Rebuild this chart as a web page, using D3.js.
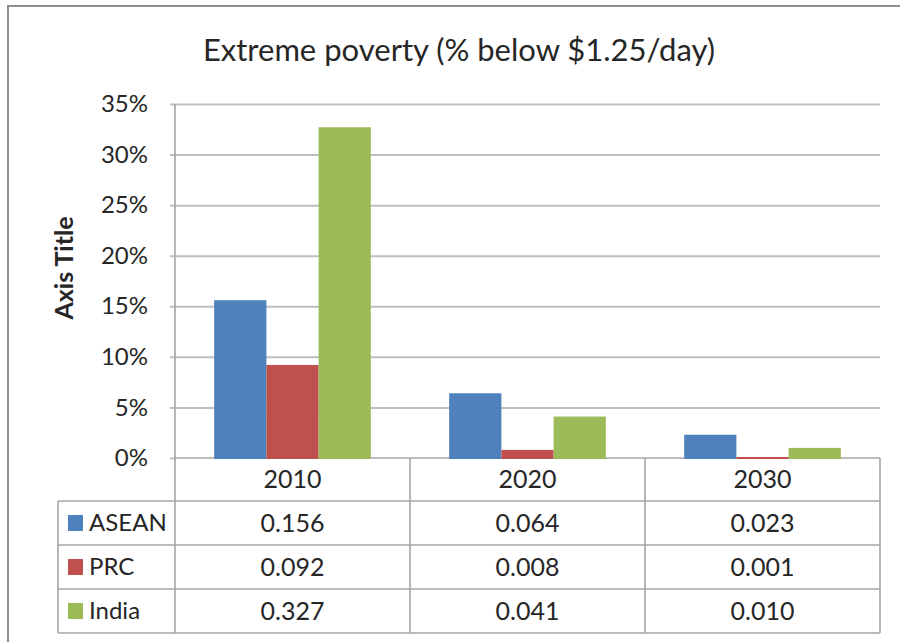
<!DOCTYPE html>
<html>
<head>
<meta charset="utf-8">
<script src="https://cdn.jsdelivr.net/npm/d3@7/dist/d3.min.js"></script>
<style>
  html, body { margin: 0; padding: 0; background: #ffffff; }
  svg { display: block; }
  text { font-family: Lato, "Open Sans", sans-serif; fill: #262626; }
</style>
</head>
<body>
<svg id="chart" width="900" height="642"></svg>
<script>
// Poverty headcount shares by region and year
const years = ["2010", "2020", "2030"];
const seriesNames = ["ASEAN", "PRC", "India"];
const asean = [0.156, 0.064, 0.023];
const prc = [0.092, 0.008, 0.001];
const india = [0.327, 0.041, 0.010];
const seriesColors = ["#4F81BD", "#C0504D", "#9BBB59"];
const yTicks = [0, 0.05, 0.10, 0.15, 0.20, 0.25, 0.30, 0.35];
const titleText = "Extreme poverty (% below $1.25/day)";
const yAxisLabel = "Axis Title";

const seriesValues = [asean, prc, india];

const svg = d3.select("#chart");
const W = 900, H = 642;

// plot area and data table geometry
const plot = { left: 175, right: 880, top: 104, bottom: 458 };
const headerH = 43;
const rowH = 44;
const legendLeft = 58;
const tableTop = plot.bottom;
const rowsTop = tableTop + headerH;
const tableBottom = rowsTop + rowH * seriesNames.length;
const lineColor = "#a6a6a6";
const gridColor = "#bfbfbf";

// outer chart frame
svg.append("rect")
  .attr("x", 8).attr("y", 6)
  .attr("width", W + 40).attr("height", H + 40)
  .attr("fill", "#ffffff")
  .attr("stroke", "#8f8f8f")
  .attr("stroke-width", 2);

// scales
const y = d3.scaleLinear().domain([0, 0.35]).range([plot.bottom, plot.top]);
const x = d3.scaleBand().domain(years).range([plot.left, plot.right]).paddingInner(0).paddingOuter(0);
const xs = d3.scaleBand().domain(seriesNames).range([0, x.bandwidth()]).paddingInner(0).paddingOuter(0.75);

// title
svg.append("text")
  .attr("x", 459).attr("y", 61)
  .attr("text-anchor", "middle")
  .style("font-size", "31px")
  .text(titleText);

// horizontal gridlines
const grid = svg.append("g")
  .attr("transform", `translate(${plot.left},0)`)
  .call(d3.axisLeft(y).tickValues(yTicks.filter(d => d > 0)).tickSize(-(plot.right - plot.left)).tickFormat(""));
grid.select(".domain").remove();
grid.selectAll(".tick line").attr("stroke", gridColor).attr("stroke-width", 2);

// y axis with percentage labels
const yAxis = svg.append("g")
  .attr("transform", `translate(${plot.left},0)`)
  .call(d3.axisLeft(y).tickValues(yTicks).tickFormat(d3.format(".0%")).tickSize(5).tickPadding(22));
yAxis.select(".domain").remove();
yAxis.selectAll(".tick line").attr("stroke", gridColor).attr("stroke-width", 2);
yAxis.selectAll(".tick text")
  .style("font-size", "24px")
  .style("font-family", "Lato, 'Open Sans', sans-serif")
  .attr("fill", "#262626");

// axis title
svg.append("text")
  .attr("transform", "translate(73,268) rotate(-90)")
  .attr("text-anchor", "middle")
  .style("font-size", "25px")
  .style("font-weight", "bold")
  .text(yAxisLabel);

// data table lines
const tbl = svg.append("g").attr("stroke", lineColor).attr("stroke-width", 1.6).attr("fill", "none");
// vertical axis line running through the table
tbl.append("line").attr("x1", plot.left).attr("x2", plot.left).attr("y1", plot.top).attr("y2", tableBottom);
// category dividers and right edge
years.forEach(yr => {
  const xr = x(yr) + x.bandwidth();
  tbl.append("line").attr("x1", xr).attr("x2", xr).attr("y1", tableTop).attr("y2", tableBottom);
});
// legend column left edge
tbl.append("line").attr("x1", legendLeft).attr("x2", legendLeft).attr("y1", rowsTop).attr("y2", tableBottom);
// category axis baseline
tbl.append("line").attr("x1", plot.left).attr("x2", plot.right).attr("y1", tableTop).attr("y2", tableTop);
// row separators
d3.range(seriesNames.length + 1).forEach(r => {
  const yy = rowsTop + r * rowH;
  tbl.append("line").attr("x1", legendLeft).attr("x2", plot.right).attr("y1", yy).attr("y2", yy);
});

// bars, drawn over the baseline so tiny values stay visible
const groups = svg.append("g").selectAll("g")
  .data(years)
  .join("g")
  .attr("transform", d => `translate(${x(d)},0)`);

groups.selectAll("rect")
  .data((yr, i) => seriesNames.map((s, k) => ({ s, k, v: seriesValues[k][i] })))
  .join("rect")
  .attr("x", d => xs(d.s))
  .attr("y", d => y(d.v))
  .attr("width", xs.bandwidth())
  .attr("height", d => plot.bottom - y(d.v) + 1)
  .attr("fill", d => seriesColors[d.k]);

// category labels in header row
svg.append("g").selectAll("text")
  .data(years)
  .join("text")
  .attr("x", d => x(d) + x.bandwidth() / 2)
  .attr("y", tableTop + headerH / 2)
  .attr("dy", "0.35em")
  .attr("text-anchor", "middle")
  .style("font-size", "25px")
  .text(d => d);

// legend keys with series names
const legendRows = svg.append("g").selectAll("g")
  .data(seriesNames)
  .join("g")
  .attr("transform", (d, i) => `translate(0,${rowsTop + i * rowH + rowH / 2})`);
legendRows.append("rect")
  .attr("x", 68).attr("y", -8)
  .attr("width", 15).attr("height", 16)
  .attr("fill", (d, i) => seriesColors[i]);
legendRows.append("text")
  .attr("x", 89)
  .attr("dy", "0.35em")
  .style("font-size", "24px")
  .text(d => d);

// table values
const fmt = d3.format(".3f");
seriesNames.forEach((s, k) => {
  svg.append("g").selectAll("text")
    .data(seriesValues[k])
    .join("text")
    .attr("x", (d, i) => x(years[i]) + x.bandwidth() / 2)
    .attr("y", rowsTop + k * rowH + rowH / 2)
    .attr("dy", "0.35em")
    .attr("text-anchor", "middle")
    .style("font-size", "25px")
    .text(d => fmt(d));
});
</script>
</body>
</html>
